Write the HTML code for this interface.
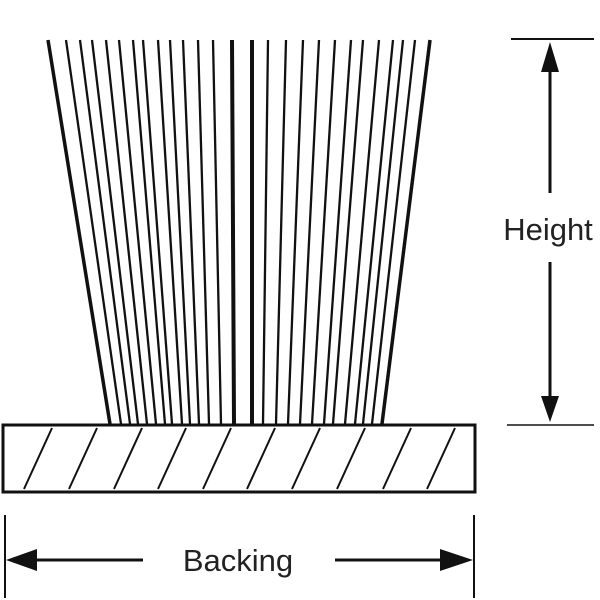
<!DOCTYPE html>
<html><head><meta charset="utf-8"><style>html,body{margin:0;padding:0;background:#fff}svg{display:block}</style></head><body>
<svg width="600" height="600" viewBox="0 0 600 600" xmlns="http://www.w3.org/2000/svg">
<g stroke="#111" fill="none" stroke-linecap="butt">
<line x1="48" y1="40" x2="110" y2="424" stroke-width="3.5"/>
<line x1="66" y1="40" x2="121" y2="424" stroke-width="2.3"/>
<line x1="80" y1="40" x2="130" y2="424" stroke-width="2.3"/>
<line x1="92" y1="40" x2="138" y2="424" stroke-width="2.3"/>
<line x1="106" y1="40" x2="147" y2="424" stroke-width="2.3"/>
<line x1="119" y1="40" x2="156" y2="424" stroke-width="2.3"/>
<line x1="133" y1="40" x2="165" y2="424" stroke-width="2.3"/>
<line x1="143" y1="40" x2="172" y2="424" stroke-width="2.3"/>
<line x1="158" y1="40" x2="182" y2="424" stroke-width="2.3"/>
<line x1="170" y1="40" x2="190" y2="424" stroke-width="2.3"/>
<line x1="183" y1="40" x2="199" y2="424" stroke-width="2.3"/>
<line x1="198" y1="40" x2="209" y2="424" stroke-width="2.3"/>
<line x1="213" y1="40" x2="221" y2="424" stroke-width="2.3"/>
<line x1="232" y1="40" x2="234" y2="424" stroke-width="4"/>
<line x1="252" y1="40" x2="252" y2="424" stroke-width="4"/>
<line x1="268" y1="40" x2="263" y2="424" stroke-width="2.3"/>
<line x1="286" y1="40" x2="276" y2="424" stroke-width="2.3"/>
<line x1="303" y1="40" x2="288" y2="424" stroke-width="2.3"/>
<line x1="319" y1="40" x2="300" y2="424" stroke-width="2.3"/>
<line x1="335" y1="40" x2="312" y2="424" stroke-width="2.3"/>
<line x1="351" y1="40" x2="324" y2="424" stroke-width="2.3"/>
<line x1="363" y1="40" x2="333" y2="424" stroke-width="2.3"/>
<line x1="379" y1="40" x2="345" y2="424" stroke-width="2.3"/>
<line x1="393" y1="40" x2="355" y2="424" stroke-width="2.3"/>
<line x1="403" y1="40" x2="363" y2="424" stroke-width="2.3"/>
<line x1="415" y1="40" x2="372" y2="424" stroke-width="2.3"/>
<line x1="430" y1="40" x2="382" y2="424" stroke-width="3.5"/>
<rect x="3" y="425" width="472" height="67" stroke-width="3"/>
<g stroke-width="2">
<line x1="24" y1="489" x2="52" y2="428"/>
<line x1="69" y1="489" x2="97" y2="428"/>
<line x1="114" y1="489" x2="142" y2="428"/>
<line x1="158" y1="489" x2="186" y2="428"/>
<line x1="203" y1="489" x2="231" y2="428"/>
<line x1="247" y1="489" x2="275" y2="428"/>
<line x1="292" y1="489" x2="320" y2="428"/>
<line x1="337" y1="489" x2="365" y2="428"/>
<line x1="383" y1="489" x2="411" y2="428"/>
<line x1="427" y1="489" x2="455" y2="428"/>
</g>
<line x1="511" y1="39" x2="594" y2="39" stroke-width="2"/>
<line x1="507" y1="425" x2="594" y2="425" stroke-width="1.5"/>
<line x1="550" y1="70" x2="550" y2="193" stroke-width="3"/>
<line x1="550" y1="262" x2="550" y2="398" stroke-width="3"/>
<line x1="5" y1="515" x2="5" y2="598" stroke-width="2"/>
<line x1="474" y1="515" x2="474" y2="598" stroke-width="2"/>
<line x1="30" y1="560" x2="143" y2="560" stroke-width="3"/>
<line x1="335" y1="560" x2="450" y2="560" stroke-width="3"/>
</g>
<g fill="#111">
<polygon points="550,42 541,72 559,72"/>
<polygon points="550,422 541,396 559,396"/>
<polygon points="6,560 37,549 37,571"/>
<polygon points="473,560 440,549 440,571"/>
</g>
<g font-family="Liberation Sans, sans-serif" font-size="31" fill="#222">
<text x="548" y="240" text-anchor="middle">Height</text>
<text x="238" y="571" text-anchor="middle">Backing</text>
</g>
</svg>
</body></html>
